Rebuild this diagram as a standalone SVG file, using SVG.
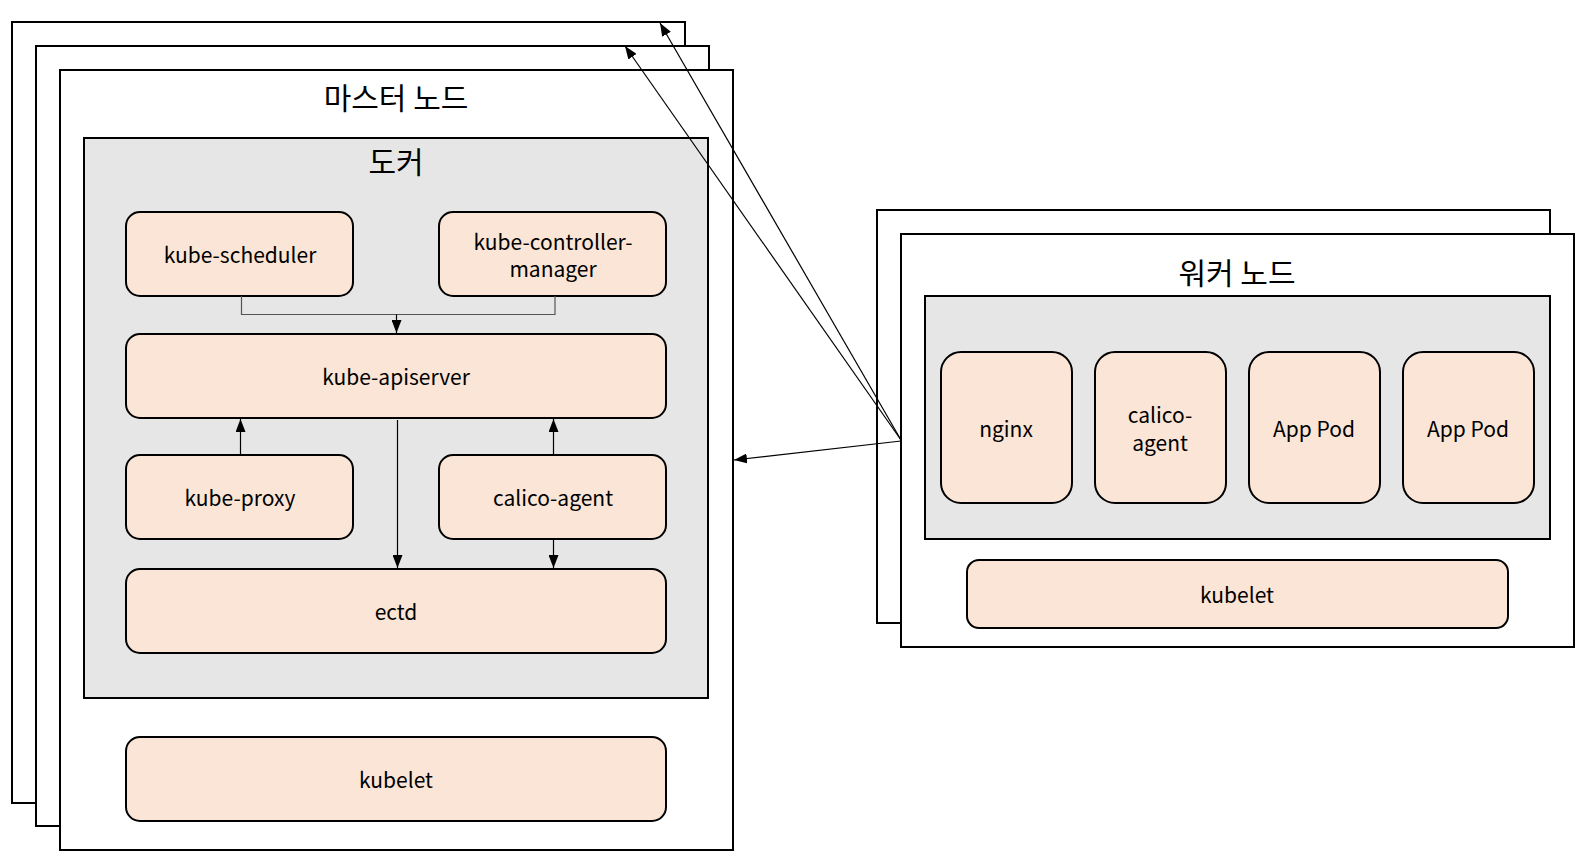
<svg xmlns="http://www.w3.org/2000/svg" width="1593" height="860" viewBox="0 0 1593 860">
<defs>
<marker id="arr" markerUnits="userSpaceOnUse" markerWidth="13" markerHeight="10" refX="13" refY="5" orient="auto">
<path d="M0,0 L13,5 L0,10 z" fill="#000"/>
</marker>
<style>
.frame{fill:#fff;stroke:#000;stroke-width:2}
.dock{fill:#e6e6e6;stroke:#000;stroke-width:2}
.box{fill:#fbe5d6;stroke:#000;stroke-width:2}
.lbl{font-family:"Noto Sans CJK KR","Noto Sans",sans-serif;font-size:21px;fill:#000;text-anchor:middle;dominant-baseline:central}
.ttl{font-family:"Noto Sans CJK KR",sans-serif;font-size:30px;fill:#000;text-anchor:middle;dominant-baseline:central}
.edge{fill:none;stroke:#000;stroke-width:1.2}
.edge2{fill:none;stroke:#555;stroke-width:1.2}
</style>
</defs>
<rect width="1593" height="860" fill="#fff"/>
<g id="master-stack">
<rect class="frame" x="12" y="22" width="673" height="781"/>
<rect class="frame" x="36" y="46" width="673" height="780"/>
</g>
<g id="master-node">
<rect class="frame" x="60" y="70" width="673" height="780"/>
<text class="ttl" x="396" y="96">마스터 노드</text>
</g>
<g id="master-docker">
<rect class="dock" x="84" y="138" width="624" height="560"/>
<text class="ttl" x="396" y="160">도커</text>
</g>
<g id="kube-scheduler">
<rect class="box" x="126" y="212" width="227" height="84" rx="14"/>
<text class="lbl" x="240" y="254">kube-scheduler</text>
</g>
<g id="kube-controller-manager">
<rect class="box" x="439" y="212" width="227" height="84" rx="14"/>
<text class="lbl" x="553" y="241">kube-controller-</text>
<text class="lbl" x="553" y="268">manager</text>
</g>
<g id="kube-apiserver">
<rect class="box" x="126" y="334" width="540" height="84" rx="14"/>
<text class="lbl" x="396" y="376">kube-apiserver</text>
</g>
<g id="kube-proxy">
<rect class="box" x="126" y="455" width="227" height="84" rx="14"/>
<text class="lbl" x="240" y="497">kube-proxy</text>
</g>
<g id="calico-agent-master">
<rect class="box" x="439" y="455" width="227" height="84" rx="14"/>
<text class="lbl" x="553" y="497">calico-agent</text>
</g>
<g id="ectd">
<rect class="box" x="126" y="569" width="540" height="84" rx="14"/>
<text class="lbl" x="396" y="611">ectd</text>
</g>
<g id="kubelet-master">
<rect class="box" x="126" y="737" width="540" height="84" rx="14"/>
<text class="lbl" x="396" y="779">kubelet</text>
</g>
<g id="worker-stack">
<rect class="frame" x="877" y="210" width="673" height="413"/>
</g>
<g id="worker-node">
<rect class="frame" x="901" y="234" width="673" height="413"/>
<text class="ttl" x="1237" y="271">워커 노드</text>
</g>
<g id="worker-docker">
<rect class="dock" x="925" y="296" width="625" height="243"/>
</g>
<g id="nginx">
<rect class="box" x="941" y="352" width="131" height="151" rx="20"/>
<text class="lbl" x="1006" y="428">nginx</text>
</g>
<g id="calico-agent-worker">
<rect class="box" x="1095" y="352" width="131" height="151" rx="20"/>
<text class="lbl" x="1160" y="414">calico-</text>
<text class="lbl" x="1160" y="442">agent</text>
</g>
<g id="app-pod-1">
<rect class="box" x="1249" y="352" width="131" height="151" rx="20"/>
<text class="lbl" x="1314" y="428">App Pod</text>
</g>
<g id="app-pod-2">
<rect class="box" x="1403" y="352" width="131" height="151" rx="20"/>
<text class="lbl" x="1468" y="428">App Pod</text>
</g>
<g id="kubelet-worker">
<rect class="box" x="967" y="560" width="541" height="68" rx="12"/>
<text class="lbl" x="1237" y="594">kubelet</text>
</g>
<g id="connectors">
<polyline class="edge2" points="241.5,296 241.5,314.5 555,314.5 555,296"/>
<line class="edge" x1="396.5" y1="314.5" x2="396.5" y2="333" marker-end="url(#arr)"/>
<line class="edge" x1="240.5" y1="455" x2="240.5" y2="419" marker-end="url(#arr)"/>
<line class="edge" x1="553.5" y1="455" x2="553.5" y2="419" marker-end="url(#arr)"/>
<line class="edge" x1="397.5" y1="420" x2="397.5" y2="568" marker-end="url(#arr)"/>
<line class="edge" x1="553.5" y1="540" x2="553.5" y2="568" marker-end="url(#arr)"/>
<line class="edge" x1="901" y1="440" x2="660" y2="23" marker-end="url(#arr)"/>
<line class="edge" x1="901" y1="440" x2="625" y2="46" marker-end="url(#arr)"/>
<line class="edge" x1="901" y1="441" x2="734" y2="460" marker-end="url(#arr)"/>
</g>
</svg>
